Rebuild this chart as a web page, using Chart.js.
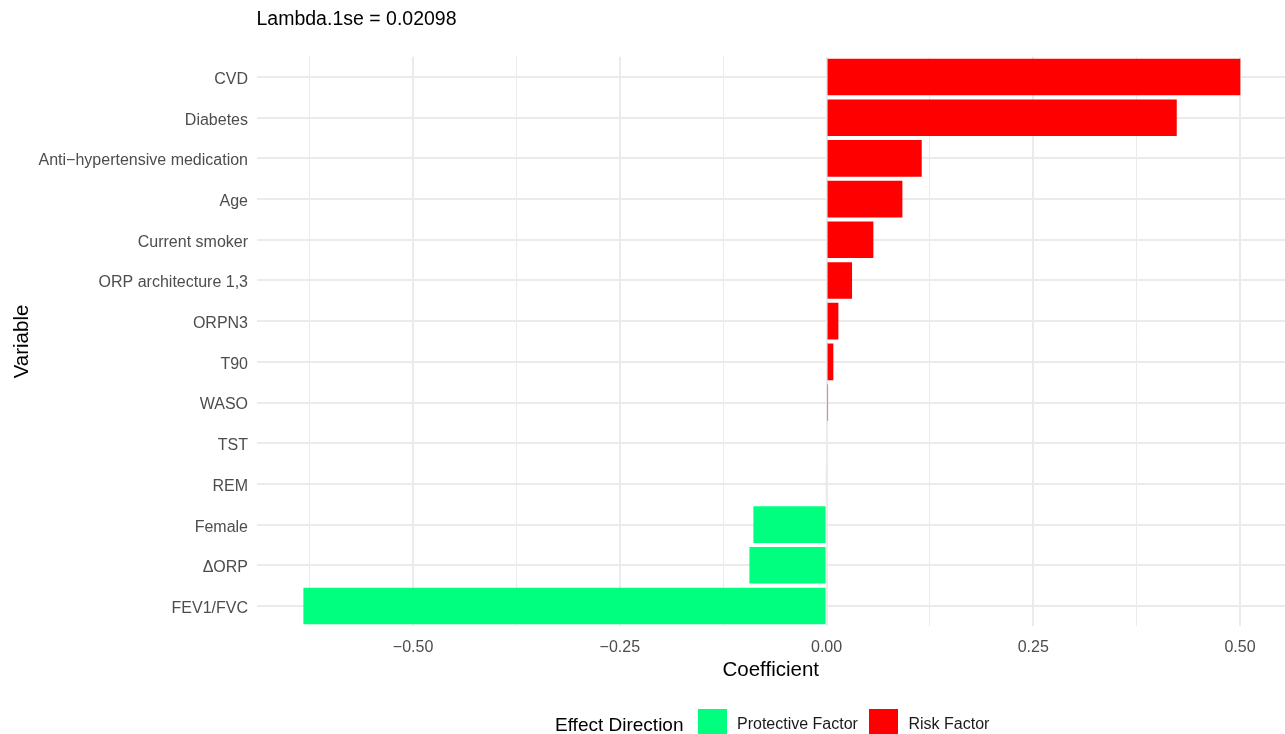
<!DOCTYPE html>
<html>
<head>
<meta charset="utf-8">
<title>Lasso coefficients</title>
<script src="https://cdn.jsdelivr.net/npm/chart.js@4.4.1/dist/chart.umd.min.js"></script>
<style>
    html, body { margin: 0; padding: 0; background: #fff; overflow: hidden; }
    #wrap { position: relative; width: 1285px; height: 734px; overflow: hidden; }
    #coefChart { position: absolute; left: 0; top: 0; }
    .legend-title, .legend-label { position: absolute; font-family: "Liberation Sans", Arial, sans-serif; color: #000; white-space: nowrap; }
    .legend-title { font-size: 19px; line-height: 19px; }
    .legend-label { font-size: 16px; line-height: 16px; color: #1a1a1a; }
    .legend-key { position: absolute; width: 29px; height: 29px; }
</style>
</head>
<body>
<div id="wrap">
    <canvas id="coefChart" width="1285" height="734"></canvas>
</div>
<script>
// --- DATA ---
const variables = [
    'CVD', 'Diabetes', 'Anti\u2212hypertensive medication', 'Age', 'Current smoker',
    'ORP architecture 1,3', 'ORPN3', 'T90', 'WASO', 'TST', 'REM', 'Female',
    '\u0394ORP', 'FEV1/FVC'
];
const coefficients = [
    0.5004, 0.4235, 0.1151, 0.0917, 0.0566,
    0.0308, 0.0143, 0.0082, 0.0018, -0.0012, -0.0013, -0.0885,
    -0.0933, -0.6327
];
const xTickValues = [-0.5, -0.25, 0, 0.25, 0.5];
const xTickLabels = ['\u22120.50', '\u22120.25', '0.00', '0.25', '0.50'];
const xMinorValues = [-0.625, -0.375, -0.125, 0.125, 0.375];
const directionNames = ['Protective Factor', 'Risk Factor'];
const directionColors = ['#00FF7F', '#FF0000'];
const lambdaLabel = 'Lambda.1se = 0.02098';

Chart.defaults.font.family = '"Liberation Sans", Arial, sans-serif';

const barColors = coefficients.map(v => v < 0 ? directionColors[0] : directionColors[1]);
const gridValues = xMinorValues.concat(xTickValues).sort((a, b) => a - b);

const ctx = document.getElementById('coefChart').getContext('2d');
const coefChart = new Chart(ctx, {
    type: 'bar',
    data: {
        labels: variables,
        datasets: [{
            label: 'Coefficient',
            data: coefficients,
            backgroundColor: barColors,
            borderWidth: 0,
            categoryPercentage: 0.9,
            barPercentage: 1.0
        }]
    },
    options: {
        indexAxis: 'y',
        responsive: false,
        animation: false,
        layout: { padding: { left: 0, right: 0, top: 0, bottom: 50.65 } },
        plugins: {
            legend: { display: false },
            tooltip: { enabled: false },
            title: {
                display: true,
                text: lambdaLabel,
                align: 'start',
                fullSize: false,
                color: '#000',
                font: { size: 19.5, weight: 'normal' },
                padding: { top: 8, bottom: 25.25 }
            }
        },
        scales: {
            x: {
                min: -0.6894,
                max: 0.5544,
                border: { display: false },
                afterBuildTicks: scale => {
                    scale.ticks = gridValues.map(v => ({ value: v }));
                },
                afterFit: scale => { scale.height = 57; },
                grid: {
                    color: '#ebebeb',
                    lineWidth: c => xMinorValues.includes(c.tick.value) ? 1 : 2,
                    drawTicks: false
                },
                ticks: {
                    autoSkip: false,
                    maxRotation: 0,
                    padding: 12,
                    color: '#4d4d4d',
                    font: { size: 16 },
                    callback: value => {
                        const i = xTickValues.indexOf(value);
                        return i >= 0 ? xTickLabels[i] : '';
                    }
                },
                title: {
                    display: true,
                    text: 'Coefficient',
                    color: '#000',
                    font: { size: 20.5 },
                    padding: { top: 0, bottom: 1 }
                }
            },
            y: {
                border: { display: false },
                afterFit: scale => { scale.width = 256.5; },
                grid: { color: '#ebebeb', lineWidth: 2, offset: false, drawTicks: false },
                ticks: { padding: 8.5, labelOffset: 2.5, color: '#4d4d4d', font: { size: 16 } },
                title: {
                    display: true,
                    text: 'Variable',
                    color: '#000',
                    font: { size: 20.5 },
                    padding: { top: 9.7, bottom: 0 }
                }
            }
        }
    }
});

// Legend along the bottom: title, then a key box and label per direction
const wrap = document.getElementById('wrap');
function addEl(cls, text, left, top, bg) {
    const el = document.createElement('div');
    el.className = cls;
    el.style.left = left + 'px';
    el.style.top = top + 'px';
    if (text) el.textContent = text;
    if (bg) el.style.background = bg;
    wrap.appendChild(el);
    return el;
}
addEl('legend-title', 'Effect Direction', 555, 714.7);
const keyLefts = [698, 869];
const labelLefts = [737, 908.5];
directionNames.forEach((name, i) => {
    addEl('legend-key', '', keyLefts[i], 709, directionColors[i]);
    addEl('legend-label', name, labelLefts[i], 715.9);
});
</script>
</body>
</html>
